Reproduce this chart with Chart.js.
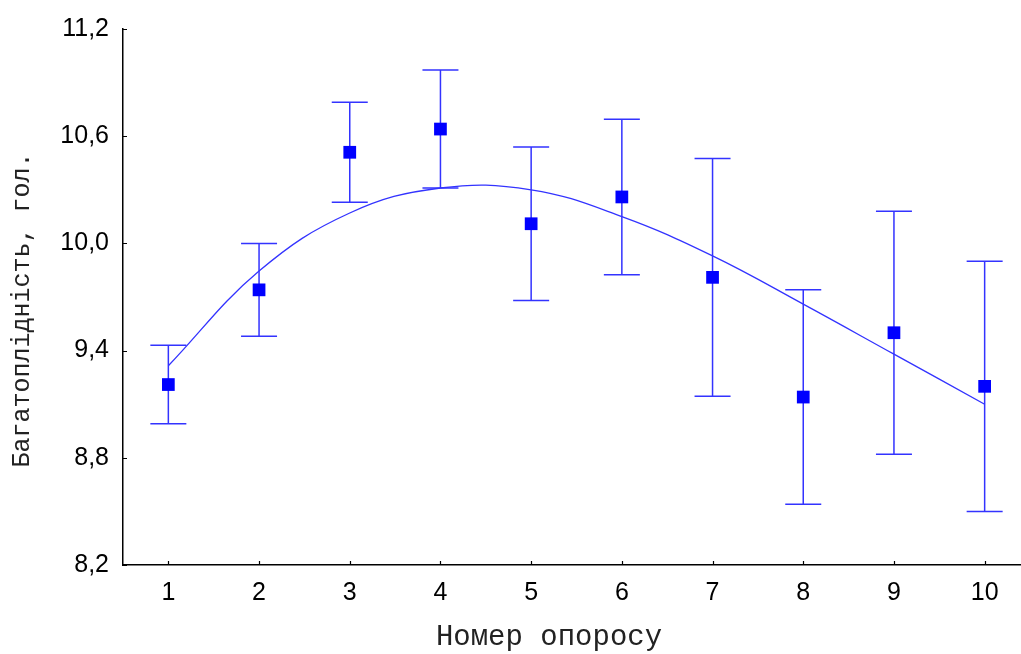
<!DOCTYPE html>
<html>
<head>
<meta charset="utf-8">
<script src="https://cdn.jsdelivr.net/npm/chart.js@4.4.0/dist/chart.umd.min.js"></script>
<style>
  html, body { margin: 0; padding: 0; background: #fff; overflow: hidden; }
  canvas { display: block; }
</style>
</head>
<body>
<canvas id="chart" width="1039" height="654"></canvas>
<script>
// дані
const opory = [1, 2, 3, 4, 5, 6, 7, 8, 9, 10];
const serednie = [9.21, 9.74, 10.51, 10.64, 10.11, 10.26, 9.81, 9.14, 9.50, 9.20];
const pohybka = [0.22, 0.26, 0.28, 0.33, 0.43, 0.435, 0.665, 0.60, 0.68, 0.70];
const trend = [9.315, 9.845, 10.17, 10.31, 10.30, 10.15, 9.93, 9.66, 9.38, 9.10];
const yTicks = [8.2, 8.8, 9.4, 10.0, 10.6, 11.2];

const BLUE = '#0000ff';

// планки похибок
const errorBars = {
  id: 'errorBars',
  beforeDatasetsDraw(chart) {
    const { ctx, scales: { x, y } } = chart;
    ctx.save();
    ctx.strokeStyle = '#3333ff';
    ctx.lineWidth = 1.5;
    opory.forEach((o, i) => {
      const px = x.getPixelForValue(o);
      const top = y.getPixelForValue(serednie[i] + pohybka[i]);
      const bot = y.getPixelForValue(serednie[i] - pohybka[i]);
      ctx.beginPath();
      ctx.moveTo(px, top); ctx.lineTo(px, bot);
      ctx.moveTo(px - 18, top); ctx.lineTo(px + 18, top);
      ctx.moveTo(px - 18, bot); ctx.lineTo(px + 18, bot);
      ctx.stroke();
    });
    ctx.restore();
  }
};

// риски на осях та підписи осей
const axisDecor = {
  id: 'axisDecor',
  afterDraw(chart) {
    const { ctx, chartArea: a, scales: { x, y } } = chart;
    ctx.save();
    ctx.strokeStyle = '#000';
    ctx.lineWidth = 1.2;
    ctx.beginPath();
    yTicks.forEach(v => {
      const py = Math.round(y.getPixelForValue(v)) + 0.5;
      ctx.moveTo(a.left, py); ctx.lineTo(a.left + 4, py);
    });
    opory.forEach(o => {
      const px = Math.round(x.getPixelForValue(o)) + 0.5;
      ctx.moveTo(px, a.bottom); ctx.lineTo(px, a.bottom - 4);
    });
    ctx.stroke();

    ctx.fillStyle = '#222';
    ctx.textAlign = 'center';
    ctx.textBaseline = 'middle';
    ctx.font = '29px "Liberation Mono", monospace';
    ctx.fillText('Номер опоросу', 549, 637);
    ctx.translate(22, 310);
    ctx.rotate(-Math.PI / 2);
    ctx.font = '25px "Liberation Mono", monospace';
    ctx.fillText('Багатоплідність, гол.', 0, 0);
    ctx.restore();
  }
};

new Chart(document.getElementById('chart'), {
  type: 'scatter',
  data: {
    datasets: [
      {
        label: 'Середнє',
        data: opory.map((o, i) => ({ x: o, y: serednie[i] })),
        pointStyle: 'rect',
        pointRadius: 9,
        pointBackgroundColor: BLUE,
        pointBorderColor: BLUE,
        pointBorderWidth: 0,
        showLine: false,
        order: 1
      },
      {
        label: 'Тренд',
        data: opory.map((o, i) => ({ x: o, y: trend[i] })),
        showLine: true,
        borderColor: '#3333ff',
        borderWidth: 1.3,
        tension: 0.4,
        pointRadius: 0,
        order: 2
      }
    ]
  },
  options: {
    responsive: false,
    animation: false,
    layout: { padding: { top: 27, right: 4, left: 0, bottom: 0 } },
    plugins: {
      legend: { display: false },
      tooltip: { enabled: false }
    },
    scales: {
      x: {
        type: 'linear',
        min: 0.5,
        max: 10.5,
        afterFit(s) { s.height = 89; },
        afterBuildTicks(s) { s.ticks = opory.map(v => ({ value: v })); },
        grid: { display: false, drawTicks: false },
        border: { display: true, color: '#000', width: 1.5 },
        ticks: {
          padding: 13,
          color: '#000',
          font: { family: '"Liberation Sans", Arial, sans-serif', size: 25 },
          callback: v => String(v)
        }
      },
      y: {
        min: 8.2,
        max: 11.2,
        afterFit(s) { s.width = 123; },
        afterBuildTicks(s) { s.ticks = yTicks.map(v => ({ value: v })); },
        grid: { display: false, drawTicks: false },
        border: { display: true, color: '#000', width: 1.5 },
        ticks: {
          padding: 14,
          color: '#000',
          font: { family: '"Liberation Sans", Arial, sans-serif', size: 25 },
          callback: v => v.toFixed(1).replace('.', ',')
        }
      }
    }
  },
  plugins: [errorBars, axisDecor]
});
</script>
</body>
</html>
